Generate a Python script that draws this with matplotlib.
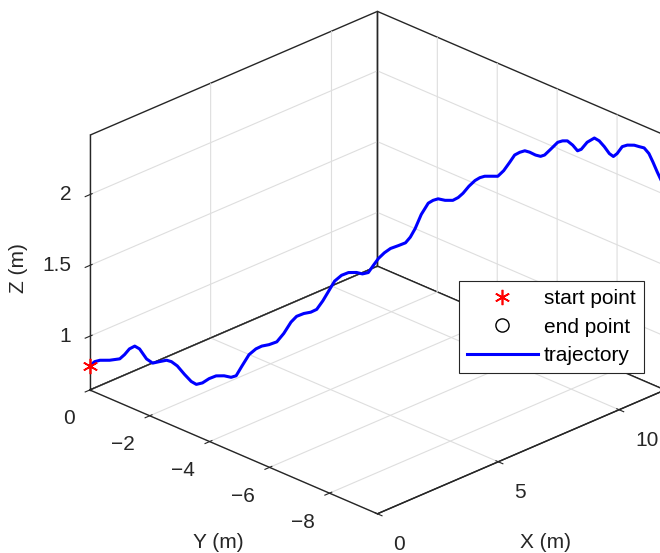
import matplotlib
matplotlib.use('Agg')
import matplotlib.pyplot as plt
from matplotlib.transforms import ScaledTranslation

plt.rcParams['font.family'] = ['Liberation Sans', 'DejaVu Sans']
plt.rcParams['grid.color'] = '#dedede'
plt.rcParams['grid.linewidth'] = 0.8
plt.rcParams['axes.linewidth'] = 1.0

# trajectory (metres)
traj_x = [0.00, 0.10, 0.21, 0.41, 0.62, 0.72, 0.82, 0.93, 1.03, 1.17,
          1.30, 1.44, 1.59, 1.69, 1.81, 1.96, 2.10, 2.20, 2.33, 2.47,
          2.61, 2.78, 2.92, 3.03, 3.15, 3.29, 3.44, 3.56, 3.71, 3.87,
          4.01, 4.16, 4.28, 4.43, 4.57, 4.69, 4.82, 4.94, 5.06, 5.21,
          5.35, 5.52, 5.64, 5.76, 5.87, 5.97, 6.09, 6.22, 6.38, 6.53,
          6.63, 6.73, 6.86, 7.00, 7.10, 7.21, 7.35, 7.51, 7.62, 7.72,
          7.84, 7.97, 8.07, 8.17, 8.32, 8.44, 8.56, 8.69, 8.79, 8.89,
          9.00, 9.10, 9.22, 9.33, 9.41, 9.53, 9.68, 9.78, 9.88, 9.99,
          10.09, 10.17, 10.29, 10.44, 10.54, 10.64, 10.75, 10.83, 10.91, 11.01,
          11.12, 11.26, 11.36, 11.47, 11.57, 11.65, 11.74, 12.10]
traj_y = [0.00, -0.08, -0.17, -0.33, -0.50, -0.58, -0.66, -0.75, -0.83, -0.95,
          -1.05, -1.16, -1.28, -1.36, -1.46, -1.58, -1.69, -1.78, -1.88, -1.99,
          -2.11, -2.24, -2.36, -2.44, -2.54, -2.66, -2.77, -2.87, -2.99, -3.12,
          -3.24, -3.36, -3.45, -3.57, -3.69, -3.79, -3.89, -3.99, -4.09, -4.20,
          -4.32, -4.45, -4.55, -4.65, -4.73, -4.82, -4.92, -5.02, -5.15, -5.27,
          -5.35, -5.43, -5.53, -5.65, -5.73, -5.81, -5.93, -6.06, -6.15, -6.23,
          -6.33, -6.43, -6.51, -6.59, -6.71, -6.81, -6.91, -7.01, -7.09, -7.18,
          -7.26, -7.34, -7.44, -7.52, -7.59, -7.69, -7.81, -7.89, -7.97, -8.06,
          -8.14, -8.20, -8.30, -8.42, -8.50, -8.59, -8.67, -8.74, -8.80, -8.89,
          -8.97, -9.09, -9.17, -9.25, -9.33, -9.40, -9.47, -9.76]
traj_z = [0.79, 0.82, 0.83, 0.83, 0.84, 0.87, 0.91, 0.93, 0.91, 0.84,
          0.81, 0.82, 0.83, 0.82, 0.79, 0.73, 0.68, 0.66, 0.67, 0.70,
          0.72, 0.72, 0.71, 0.72, 0.79, 0.87, 0.91, 0.93, 0.94, 0.96,
          1.02, 1.10, 1.14, 1.16, 1.17, 1.19, 1.25, 1.32, 1.39, 1.43,
          1.45, 1.45, 1.44, 1.45, 1.50, 1.55, 1.59, 1.62, 1.64, 1.66,
          1.70, 1.76, 1.86, 1.94, 1.96, 1.97, 1.96, 1.96, 1.98, 2.01,
          2.06, 2.10, 2.12, 2.13, 2.13, 2.13, 2.17, 2.23, 2.28, 2.30,
          2.31, 2.30, 2.28, 2.27, 2.28, 2.32, 2.37, 2.38, 2.38, 2.35,
          2.31, 2.32, 2.37, 2.40, 2.38, 2.34, 2.29, 2.27, 2.29, 2.34,
          2.35, 2.35, 2.34, 2.33, 2.29, 2.23, 2.16, 1.90]

x_lim = (0, 11.9)
y_lim = (-9.6, 0)
z_lim = (0.62, 2.42)
x_ticks = [0, 5, 10]
y_ticks = [-8, -6, -4, -2, 0]
z_ticks = [1, 1.5, 2]
z_tick_labels = ['1', '1.5', '2']

W, H = 660, 553
fig = plt.figure(figsize=(W / 100, H / 100), dpi=100)

S = 622
cx, cy = 369, H - 271
ax = fig.add_axes([(cx - S / 2) / W, (cy - S / 2) / H, S / W, S / H],
                  projection='3d')
ax.set_proj_type('ortho')
ax.view_init(elev=25.5, azim=-135)
ax.set_box_aspect((1, 1, 0.694))
ax.computed_zorder = False

edge = '#262626'
for axis in (ax.xaxis, ax.yaxis, ax.zaxis):
    axis.set_pane_color((1, 1, 1, 1))
    axis.pane.set_edgecolor(edge)
    axis.pane.set_linewidth(1.0)
    axis.line.set_color(edge)

# box edges that the grid lines at x=0 / y=0 would otherwise grey out
x0, x1 = x_lim
y0, y1 = y_lim
z0, z1 = z_lim
ax.plot([x0, x1], [y1, y1], [z0, z0], color=edge, lw=1.0, zorder=1)
ax.plot([x1, x1], [y1, y1], [z0, z1], color=edge, lw=1.0, zorder=1)

ax.plot(traj_x, traj_y, traj_z, color='#0000ff', lw=2.2, label='trajectory',
        zorder=2)
ax.plot(traj_x[:1], traj_y[:1], traj_z[:1], ls='none', marker=(6, 2, 0),
        ms=11, mew=1.2, color='#ff0000', label='start point', zorder=3)
ax.plot(traj_x[-1:], traj_y[-1:], traj_z[-1:], ls='none', marker='o',
        ms=9.5, mfc='none', mec='k', mew=1.0, label='end point', zorder=3)

ax.set_xlim(*x_lim)
ax.set_ylim(*y_lim)
ax.set_zlim(*z_lim)
ax.set_xticks(x_ticks)
ax.set_yticks(y_ticks)
ax.set_zticks(z_ticks)
ax.set_zticklabels(z_tick_labels)
ax.tick_params(labelsize=15, colors=edge)
ax.xaxis.set_tick_params(pad=5)
ax.yaxis.set_tick_params(pad=4)
ax.zaxis.set_tick_params(pad=-0.5)
plt.setp(ax.get_xticklabels(), ha='left')
plt.setp(ax.get_yticklabels(), ha='right')
lift = ScaledTranslation(0, 0.07, fig.dpi_scale_trans)
for t in ax.get_zticklabels():
    t.set_ha('right')
    t.set_va('center')
    t.set_transform(t.get_transform() + lift)

fig.text(18 / W, 1 - 268 / H, 'Z (m)', rotation=90, fontsize=15,
         ha='center', va='center', color=edge)
fig.text(218 / W, 1 - 542 / H, 'Y (m)', fontsize=15,
         ha='center', va='center', color=edge)
fig.text(545 / W, 1 - 542 / H, 'X (m)', fontsize=15,
         ha='center', va='center', color=edge)

h, l = ax.get_legend_handles_labels()
order = [1, 2, 0]
leg = ax.legend([h[i] for i in order], [l[i] for i in order],
                loc='upper left', bbox_to_anchor=(459 / W, 1 - 281 / H),
                bbox_transform=fig.transFigure, fontsize=15,
                fancybox=False, framealpha=1, edgecolor=edge,
                handlelength=3.37, handletextpad=0.3, labelspacing=0.45,
                borderaxespad=0)
leg.get_frame().set_linewidth(0.8)

fig.savefig('out.png', dpi=100)
